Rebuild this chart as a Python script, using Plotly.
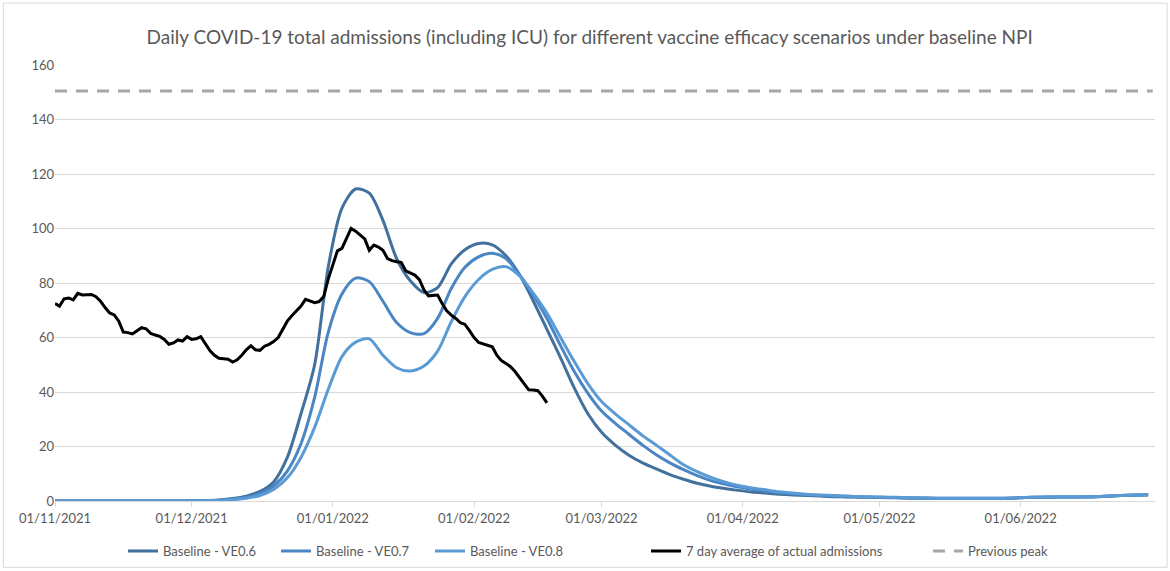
import pandas as pd
import plotly.graph_objects as go

# model scenarios, one value every 3 days from 01/11/2021
model_dates = pd.date_range("2021-11-01", periods=81, freq="3D")
ve06 = [0, 0, 0, 0, 0, 0, 0, 0, 0, 0,
        0.1, 0.2, 0.4, 0.9, 1.8, 3.5, 7.0, 16, 32, 50,
        86, 107.5, 114.5, 113, 103, 89, 80.8, 76.5, 78.3, 87,
        92.2, 94.5, 94, 90, 83, 73.4, 63, 52.5, 41.5, 32,
        25.2, 20.5, 16.8, 14, 11.8, 9.7, 8, 6.5, 5.4, 4.6,
        3.9, 3.3, 2.9, 2.5, 2.2, 2.0, 1.8, 1.6, 1.5, 1.4,
        1.3, 1.2, 1.1, 1.0, 1.0, 0.9, 0.9, 0.9, 0.9, 0.9,
        1.0, 1.3, 1.4, 1.4, 1.5, 1.5, 1.5, 1.7, 2.0, 2.1,
        2.2]
ve07 = [0, 0, 0, 0, 0, 0, 0, 0, 0, 0,
        0.05, 0.1, 0.3, 0.7, 1.4, 2.7, 5.5, 11, 21, 38,
        62, 76, 81.8, 80.5, 73.3, 65.5, 61.8, 61.4, 67, 78,
        85.8, 89.6, 90.9, 89, 83, 75.5, 67, 57, 47.5, 39.5,
        33, 28.5, 24.5, 20.5, 17, 14, 11.5, 9.3, 7.5, 6.2,
        5.1, 4.3, 3.6, 3.0, 2.6, 2.3, 2.0, 1.8, 1.6, 1.5,
        1.4, 1.3, 1.2, 1.1, 1.0, 1.0, 1.0, 1.0, 1.0, 1.0,
        1.1, 1.3, 1.4, 1.5, 1.5, 1.5, 1.6, 1.8, 2.0, 2.2,
        2.3]
ve08 = [0, 0, 0, 0, 0, 0, 0, 0, 0, 0,
        0.05, 0.1, 0.2, 0.5, 1.0, 2.0, 4.2, 8.5, 16, 27,
        41, 53, 58.3, 59.5, 53.5, 48.9, 47.7, 49.5, 55, 65.8,
        75, 81.3, 85, 86, 82.6, 76.3, 69, 60, 51.2, 43,
        36.5, 32, 28, 24, 20.5, 16.9, 13.3, 10.8, 8.7, 7,
        5.7, 4.8, 4.1, 3.4, 2.9, 2.5, 2.2, 2.0, 1.8, 1.6,
        1.5, 1.4, 1.3, 1.2, 1.1, 1.0, 1.0, 1.0, 1.0, 1.0,
        1.1, 1.3, 1.4, 1.5, 1.5, 1.5, 1.6, 1.8, 2.0, 2.2,
        2.4]

# 7 day average of actual admissions, daily from 01/11/2021
actual_dates = pd.date_range("2021-11-01", periods=109, freq="D")
actual = [72.5, 71.5, 74.2, 74.5, 73.8, 76.2, 75.6, 75.7, 75.8, 75.0,
          73.3, 71.0, 69.0, 68.3, 66.0, 62.0, 61.8, 61.3, 62.5, 63.6,
          63.2, 61.5, 60.9, 60.4, 59.3, 57.5, 58.0, 59.1, 58.7, 60.3,
          59.3, 59.5, 60.3, 57.5, 55.2, 53.5, 52.4, 52.2, 52.0, 51.0,
          51.8, 53.5, 55.5, 57.0, 55.5, 55.3, 56.8, 57.5, 58.5, 60.0,
          63.0, 66.0, 68.0, 69.8, 71.5, 74.0, 73.5, 72.8, 73.2, 75.0,
          81.5, 87.0, 91.8, 92.7, 96.5, 100.0, 99.0, 97.5, 96.2, 92.0,
          93.9, 93.2, 92.0, 89.0, 88.2, 87.8, 87.6, 84.5, 83.6, 82.9,
          81.2, 77.5, 75.3, 75.4, 75.6, 72.5, 69.8, 68.2, 67.0, 65.4,
          64.8, 62.5, 60.0, 58.2, 57.7, 57.2, 56.6, 53.5, 51.5, 50.5,
          49.3, 47.5, 45.2, 43.0, 40.8, 40.7, 40.5, 38.5, 36.0]

previous_peak = 150.5
peak_dates = ["2021-11-01", "2022-06-30"]

grey = "#595959"
font = "Lato"

fig = go.Figure()
for name, vals, col, lg in [("Baseline - VE0.6", ve06, "#41719C", "legend"),
                            ("Baseline - VE0.7", ve07, "#4A85C4", "legend2"),
                            ("Baseline - VE0.8", ve08, "#5B9BD5", "legend3")]:
    fig.add_trace(go.Scatter(x=model_dates, y=vals, mode="lines", name=name, legend=lg,
                             line=dict(color=col, width=3, shape="spline", smoothing=0.8)))
fig.add_trace(go.Scatter(x=actual_dates, y=actual, mode="lines",
                         name="7 day average of actual admissions", legend="legend4",
                         line=dict(color="black", width=3)))
fig.add_trace(go.Scatter(x=peak_dates, y=[previous_peak] * 2, mode="lines",
                         name="Previous peak", legend="legend5",
                         line=dict(color="#A6A6A6", width=3, dash="12px,9px")))

# one legend per entry so the spacing matches the original
leg_x = [125, 278, 432, 648, 930]
leg = dict(orientation="h", xanchor="left", y=-0.115, yanchor="middle",
           font=dict(family=font, size=13, color=grey), bgcolor="rgba(0,0,0,0)")
legends = {}
for i, px in enumerate(leg_x):
    key = "legend" if i == 0 else "legend%d" % (i + 1)
    legends[key] = dict(leg, x=(px - 55 - 2) / 1100)

fig.update_layout(
    width=1170, height=571,
    margin=dict(l=55, r=15, t=65, b=70, autoexpand=False),
    paper_bgcolor="white", plot_bgcolor="white",
    font=dict(family=font, size=12, color=grey),
    title=dict(text="Daily COVID-19 total admissions (including ICU) for different vaccine efficacy scenarios under baseline NPI",
               x=0.504, xanchor="center", y=0.935, yanchor="middle",
               font=dict(family=font, size=19, color=grey)),
    showlegend=True,
    shapes=[dict(type="rect", xref="paper", yref="paper",
                 x0=-0.047, x1=1.011, y0=-0.152, y1=1.142,
                 line=dict(color="#D9D9D9", width=1), layer="below")],
    **legends,
)
fig.update_xaxes(range=["2021-11-01", "2022-06-30 12:00"], tick0="2021-11-01", dtick="M1",
                 tickformat="%d/%m/%Y", showgrid=False, showline=True, linecolor="#D9D9D9",
                 ticks="outside", ticklen=5, tickcolor="#D9D9D9", zeroline=False,
                 automargin=False, tickfont=dict(size=13, color=grey))
fig.update_yaxes(range=[0, 160], dtick=20, showgrid=True, gridcolor="#D9D9D9",
                 zeroline=False, showline=False, ticks="", automargin=False,
                 tickfont=dict(size=13, color=grey))

fig.write_html("out.html", config={"displayModeBar": False},
               post_script="document.body.style.margin='0';")
